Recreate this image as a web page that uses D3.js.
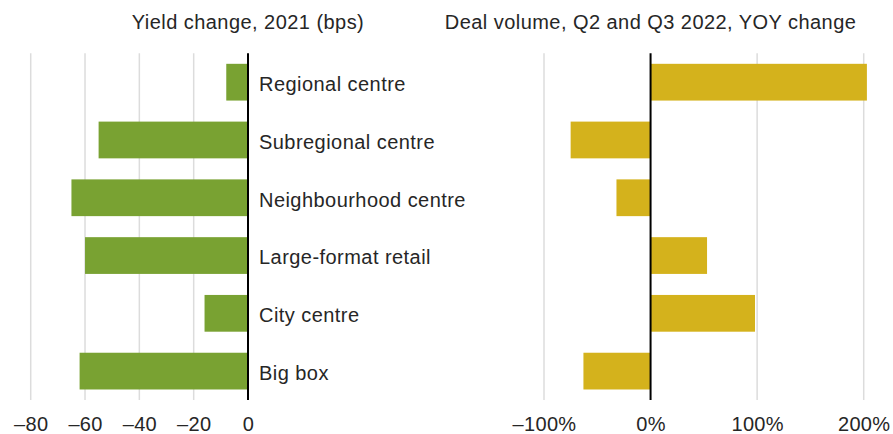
<!DOCTYPE html>
<html>
<head>
<meta charset="utf-8">
<script src="https://cdn.jsdelivr.net/npm/d3@7"></script>
<style>
  html, body { margin: 0; padding: 0; background: #fff; }
  svg { display: block; font-family: "Liberation Sans", Arial, Helvetica, sans-serif; }
  .tick text { fill: #262626; font-size: 20px; letter-spacing: 0.3px; }
  .lbl { fill: #262626; font-size: 20px; letter-spacing: 0.45px; }
</style>
</head>
<body>
<svg id="chart" width="893" height="434"></svg>
<script>
// Retail segments, top to bottom
const categories = ["Regional centre", "Subregional centre", "Neighbourhood centre", "Large-format retail", "City centre", "Big box"];
// Yield change in 2021, basis points
const yieldChange = [-8, -55, -65, -60, -16, -62];
// Deal volume, Q2 and Q3 2022, year-on-year change, percent
const dealVolumeChange = [203, -75, -32, 53, 98, -63];

const leftTicks = [-80, -60, -40, -20, 0];
const leftTickLabels = ["–80", "–60", "–40", "–20", "0"];
const rightTicks = [-100, 0, 100, 200];
const rightTickLabels = ["–100%", "0%", "100%", "200%"];

const leftTitle = "Yield change, 2021 (bps)";
const rightTitle = "Deal volume, Q2 and Q3 2022, YOY change";

const svg = d3.select("#chart");
const plotTop = 53.3, plotBottom = 400;

const y = d3.scaleBand().domain(categories).range([plotTop, plotBottom])
  .paddingInner(0.364).paddingOuter(0.182);

const xL = d3.scaleLinear().domain([-80, 0]).range([30.7, 248]);
const xR = d3.scaleLinear().domain([-100, 200]).range([544, 863.7]);

function panel(x, values, ticks, tickLabels, color, title) {
  const g = svg.append("g");

  // vertical gridlines (zero drawn separately as a black rule)
  g.selectAll("line.grid").data(ticks.filter(t => t !== 0)).join("line")
    .attr("class", "grid")
    .attr("x1", d => x(d)).attr("x2", d => x(d))
    .attr("y1", plotTop).attr("y2", plotBottom)
    .attr("stroke", "#dcdcdc").attr("stroke-width", 1.5);

  g.selectAll("rect").data(values).join("rect")
    .attr("x", d => x(Math.min(0, d)))
    .attr("width", d => Math.abs(x(d) - x(0)))
    .attr("y", (d, i) => y(categories[i]))
    .attr("height", y.bandwidth())
    .attr("fill", color);

  g.append("line")
    .attr("x1", x(0)).attr("x2", x(0))
    .attr("y1", plotTop).attr("y2", plotBottom)
    .attr("stroke", "#000").attr("stroke-width", 2);

  const axis = d3.axisBottom(x).tickValues(ticks).tickSize(0).tickPadding(0)
    .tickFormat((d, i) => tickLabels[i]);
  const ag = g.append("g").attr("transform", `translate(0,${plotBottom})`).call(axis);
  ag.select(".domain").remove();
  ag.selectAll(".tick text").attr("dy", null).attr("y", 31);
  ag.attr("font-family", null).attr("font-size", null);

  g.append("text")
    .attr("class", "lbl")
    .attr("x", x(0)).attr("y", 29)
    .attr("text-anchor", "middle")
    .text(title);
}

panel(xL, yieldChange, leftTicks, leftTickLabels, "#79a232", leftTitle);
panel(xR, dealVolumeChange, rightTicks, rightTickLabels, "#d4b21c", rightTitle);

// category labels to the right of the left panel's zero line
svg.append("g").selectAll("text").data(categories).join("text")
  .attr("class", "lbl")
  .attr("x", xL(0) + 11)
  .attr("y", d => y(d) + y.bandwidth() / 2 + 8.8)
  .text(d => d);
</script>
</body>
</html>
